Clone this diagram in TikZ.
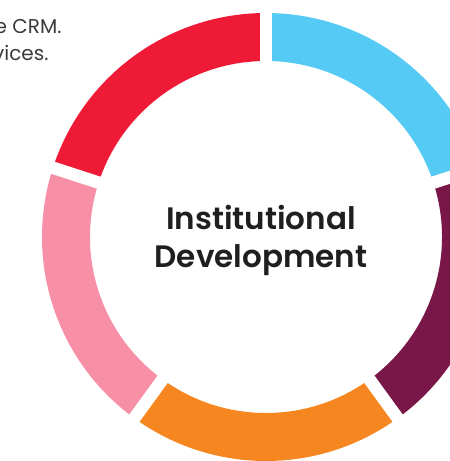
\documentclass[tikz,border=0pt]{standalone}
\usepackage{fontspec}
\setmainfont{Poppins}
\newfontfamily\titlefont{Poppins SemiBold}
\definecolor{ringcyan}{HTML}{55CAF4}
\definecolor{ringplum}{HTML}{7A1749}
\definecolor{ringorange}{HTML}{F68720}
\definecolor{ringpink}{HTML}{F78FA7}
\definecolor{ringred}{HTML}{EF1A36}
\definecolor{txtgrey}{HTML}{3A3A3A}
\begin{document}
\begin{tikzpicture}[x=1pt,y=1pt]
\clip (0,0) rectangle (450,461);
\coordinate (ctr) at (266,224);
\foreach \a/\c in {90/ringcyan,18/ringplum,-54/ringorange,-126/ringpink,162/ringred}{
\fill[\c] ([shift={(\a:224)}]ctr) arc[start angle=\a, end angle=\a-72, radius=224]
  -- ([shift={(\a-72:176)}]ctr) arc[start angle=\a-72, end angle=\a, radius=176] -- cycle;
}
\foreach \a in {90,18,-54,-126,162}{
\coordinate (gap\a) at ([shift={(\a:240)}]ctr);
\draw[white, line width=12.5pt] (ctr) -- (gap\a);
}
\node[font=\fontsize{31}{38}\titlefont, align=center, text=black!88] (title) at (261,221) {Institutional\\Development};
\node[font=\fontsize{20}{27}\selectfont, anchor=base east, text=txtgrey] (txta) at (65,427) {e CRM.};
\node[font=\fontsize{20}{27}\selectfont, anchor=base east, text=txtgrey] (txtb) at (52,400) {vices.};
\end{tikzpicture}
\end{document}
